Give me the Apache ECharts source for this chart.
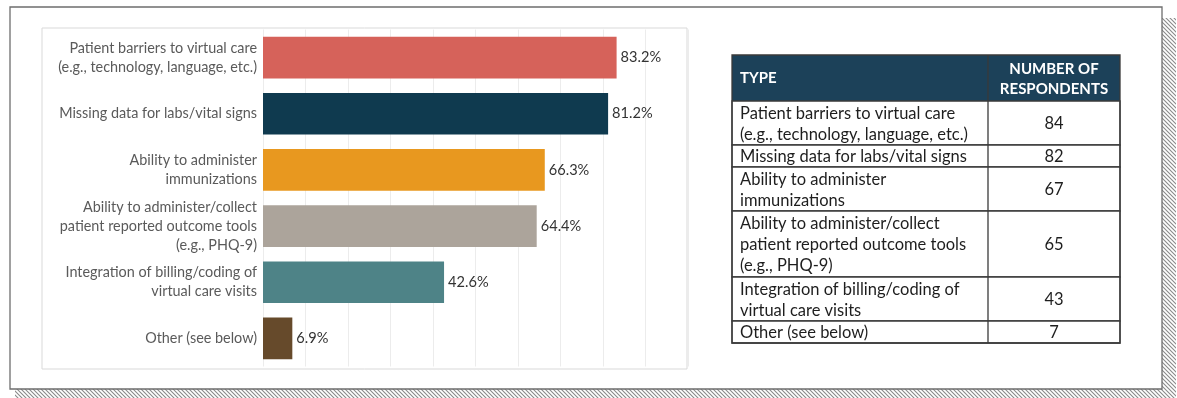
<!DOCTYPE html>
<html><head><meta charset="utf-8">
<script src="https://cdn.jsdelivr.net/npm/echarts@6/dist/echarts.min.js"></script>
<style>html,body{margin:0;padding:0;background:#fff}#c{width:1177px;height:398px}</style>
</head><body><div id="c"></div>
<script>
const categories = [
  'Patient barriers to virtual care\n(e.g., technology, language, etc.)',
  'Missing data for labs/vital signs',
  'Ability to administer\nimmunizations',
  'Ability to administer/collect\npatient reported outcome tools\n(e.g., PHQ-9)',
  'Integration of billing/coding of\nvirtual care visits',
  'Other (see below)'
];
const percentValues = [83.2, 81.2, 66.3, 64.4, 42.6, 6.9];
const respondentCounts = [84, 82, 67, 65, 43, 7];
const tableHeaders = ['TYPE', 'NUMBER OF\nRESPONDENTS'];
const barColors = ['#D6625A', '#0F3A4F', '#E8981F', '#ACA49B', '#4E8387', '#664A2B'];

const FONT = 'Lato, "Noto Sans", sans-serif';

// hatch pattern
const pc = document.createElement('canvas');
pc.width = 4; pc.height = 4;
const pctx = pc.getContext('2d');
pctx.fillStyle = '#fff'; pctx.fillRect(0,0,4,4);
pctx.strokeStyle = '#8a8a8a'; pctx.lineWidth = 1.1;
pctx.beginPath();
pctx.moveTo(-1,-1); pctx.lineTo(5,5);
pctx.moveTo(-1,3); pctx.lineTo(1,5);
pctx.moveTo(3,-1); pctx.lineTo(5,1);
pctx.stroke();

const graphics = [];
// shadow + frame
graphics.push({type:'rect', z:-20, shape:{x:15,y:18,width:1161,height:390}, style:{fill:{image:pc, repeat:'repeat'}}, silent:true});
graphics.push({type:'rect', z:-19, shape:{x:10,y:7,width:1152,height:382}, style:{fill:'#fff', stroke:'#6e6e6e', lineWidth:1.3}, silent:true});
// chart box
graphics.push({type:'rect', z:-18, shape:{x:42,y:28,width:645,height:341}, style:{fill:'#fff', stroke:'#d9d9d9', lineWidth:1}, silent:true});

// table
const tX = 732, tW = 388, colX = 988, tY = 55, headerH = 46, lineH = 22;
const c2 = (colX + tX + tW) / 2;
graphics.push({type:'rect', z:50, shape:{x:tX,y:tY,width:tW,height:headerH}, style:{fill:'#1C4159'}});
graphics.push({type:'text', z:51, style:{x:tX+8, y:tY+headerH/2, text:tableHeaders[0], fill:'#fff', font:'bold 15px '+FONT, verticalAlign:'middle', align:'left'}});
graphics.push({type:'text', z:51, style:{x:c2, y:tY+headerH/2+1, text:tableHeaders[1], fill:'#fff', font:'bold 15px '+FONT, verticalAlign:'middle', align:'center', lineHeight:20}});
let y = tY + headerH;
categories.forEach((cat, i) => {
  const n = cat.split('\n').length;
  const h = n * lineH;
  graphics.push({type:'rect', z:50, shape:{x:tX,y:y,width:tW,height:h}, style:{fill:'#fff', stroke:'#3a3a3a', lineWidth:1.3}});
  graphics.push({type:'text', z:51, style:{x:tX+8, y:y+h/2+1, text:cat, fill:'#1e1e1e', font:'16.5px '+FONT, verticalAlign:'middle', align:'left', lineHeight:21}});
  graphics.push({type:'text', z:51, style:{x:c2, y:y+h/2+1, text:String(respondentCounts[i]), fill:'#1e1e1e', font:'16.5px '+FONT, verticalAlign:'middle', align:'center'}});
  y += h;
});
graphics.push({type:'line', z:52, shape:{x1:colX,y1:tY,x2:colX,y2:y}, style:{stroke:'#3a3a3a', lineWidth:1.3}});
graphics.push({type:'rect', z:52, shape:{x:tX,y:tY,width:tW,height:y-tY}, style:{fill:'none', stroke:'#3a3a3a', lineWidth:1.3}});

const chart = echarts.init(document.getElementById('c'), null, {renderer:'canvas'});
chart.setOption({
  animation:false,
  backgroundColor:'#fff',
  graphic:{elements:graphics},
  grid:{left:263, top:29.5, width:425, height:337, containLabel:false},
  xAxis:{type:'value', min:0, max:100, interval:10,
    axisLabel:{show:false}, axisTick:{show:false}, axisLine:{show:false},
    splitLine:{show:true, lineStyle:{color:'#ececec', width:1}}},
  yAxis:{type:'category', inverse:true, data:categories,
    axisTick:{show:false}, axisLine:{show:false},
    axisLabel:{color:'#5a5a5a', fontFamily:FONT, fontSize:14.4, lineHeight:19, margin:6, align:'right'}},
  series:[{type:'bar', barCategoryGap:'25.7%',
    data: percentValues.map((v,i)=>({value:v, itemStyle:{color:barColors[i]}})),
    label:{show:true, position:'right', distance:4, color:'#333', fontFamily:FONT, fontSize:14.6,
      formatter:p=>p.value.toFixed(1)+'%'}}]
});
</script></body></html>
